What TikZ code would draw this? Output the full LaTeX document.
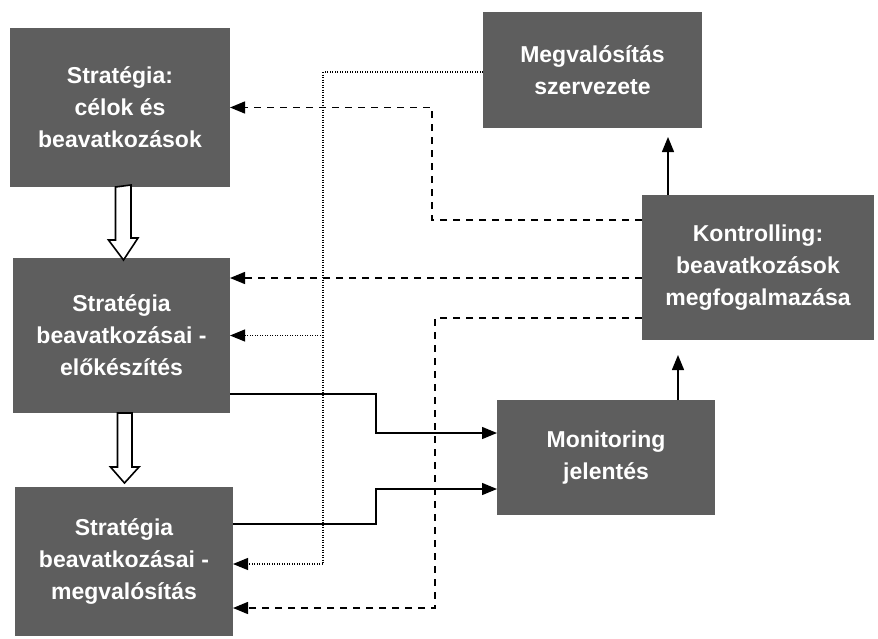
\documentclass[tikz,border=0pt]{standalone}
\usepackage{fontspec}
\setmainfont{Liberation Sans}
\usetikzlibrary{arrows.meta,calc}
\definecolor{boxgray}{gray}{0.37}
\tikzset{
  box/.style={fill=boxgray, draw=none, text=white, align=center, inner sep=0pt, outer sep=0pt,
    font=\bfseries\fontsize{23}{32}\selectfont},
  tip/.style={-{Triangle[length=15pt,width=12pt]}},
  dasharrow/.style={tip, line width=1.4pt, dash pattern=on 7pt off 6pt},
  dotarrow/.style={tip, line width=1.1pt, dash pattern=on 1pt off 1.5pt},
  solidarrow/.style={tip, line width=1.4pt},
  blockarrow/.style={draw=black, fill=white, line width=1.6pt, line join=miter}
}
\begin{document}
\begin{tikzpicture}[x=1pt,y=-1pt]
\useasboundingbox (0,0) rectangle (878,638);
% boxes
\node[box, minimum width=220pt, minimum height=159pt] (A) at (120,107.5) {Stratégia:\\célok és\\beavatkozások};
\node[box, minimum width=217pt, minimum height=155pt] (B) at (121.5,335.5) {Stratégia\\beavatkozásai -\\előkészítés};
\node[box, minimum width=218pt, minimum height=149pt] (C) at (124,561.5) {Stratégia\\beavatkozásai -\\megvalósítás};
\node[box, minimum width=219pt, minimum height=116pt] (M) at (592.5,70) {Megvalósítás\\szervezete};
\node[box, minimum width=232pt, minimum height=145pt] (K) at (758,267.5) {Kontrolling:\\beavatkozások\\megfogalmazása};
\node[box, minimum width=218pt, minimum height=115pt] (Mon) at (606,457.5) {Monitoring\\jelentés};
% block arrows
\draw[blockarrow] ($(A.south)+(-4.5,0)$) -- ++(0,53) -- ++(-7,0) -- ($(B.north)+(2,2)$) -- ++(14.5,-22) -- ++(-7,0) -- ++(0,-53) -- cycle;
\draw[blockarrow] ($(B.south)+(-4,0)$) -- ++(0,54) -- ++(-7,0) -- ($(C.north)+(0.5,-4)$) -- ++(14.5,-16) -- ++(-7,0) -- ++(0,-54) -- cycle;
% dotted connectors
\coordinate (m1) at (M.west |- 0,72);
\coordinate (dv) at (323,564);
\coordinate (db) at (323,335.5);
\draw[dotarrow] (m1) -| (dv) -- (dv -| C.east);
\draw[dotarrow] (db) -- (B.east);
% dashed connectors
\coordinate (k1) at (642,220);
\coordinate (k2) at (642,278);
\coordinate (k3) at (642,318);
\draw[dasharrow] (k1) -| (432,107.5) -- (A.east);
\draw[dasharrow] (k2) -- (k2 -| B.east);
\draw[dasharrow] (k3) -| (435,608) -- (C.east |- 0,608);
% solid connectors
\coordinate (s1) at (B.east |- 0,394);
\coordinate (s2) at (C.east |- 0,524);
\draw[solidarrow] (s1) -| (376,433) -- (Mon.west |- 0,433);
\draw[solidarrow] (s2) -| (376,489) -- (Mon.west |- 0,489);
\draw[solidarrow, shorten >=15pt] (Mon.north -| 678,0) -- (K.south -| 678,0);
\draw[solidarrow, shorten >=9pt] (K.north -| 668,0) -- (M.south -| 668,0);
\end{tikzpicture}
\end{document}
